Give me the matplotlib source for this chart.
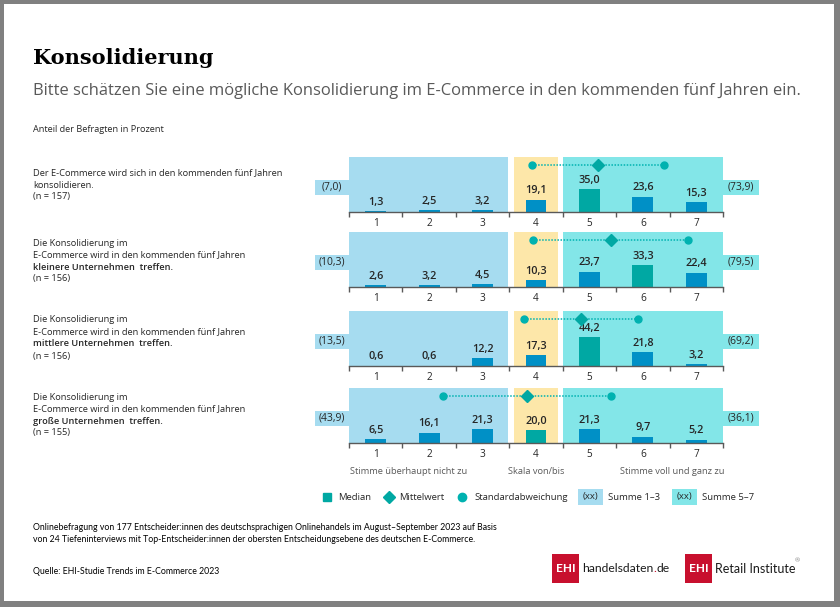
import numpy as np
import matplotlib.pyplot as plt
from matplotlib.patches import Rectangle

plt.rcParams['font.family'] = ['Open Sans', 'DejaVu Sans']

W, H = 840, 607

# data
cats = [1, 2, 3, 4, 5, 6, 7]
values = [
    [1.3, 2.5, 3.2, 19.1, 35.0, 23.6, 15.3],
    [2.6, 3.2, 4.5, 10.3, 23.7, 33.3, 22.4],
    [0.6, 0.6, 12.2, 17.3, 44.2, 21.8, 3.2],
    [6.5, 16.1, 21.3, 20.0, 21.3, 9.7, 5.2],
]
sum_low = [7.0, 10.3, 13.5, 43.9]
sum_high = [73.9, 79.5, 69.2, 36.1]
medians = [5, 6, 5, 4]
means = [5.16, 5.40, 4.84, 3.83]
sds = [1.24, 1.45, 1.07, 1.57]

statements = [
    ["Der E-Commerce wird sich in den kommenden fünf Jahren", "konsolidieren.", "(n = 157)"],
    ["Die Konsolidierung im", "E-Commerce wird in den kommenden fünf Jahren",
     "kleinere Unternehmen  treffen.", "(n = 156)"],
    ["Die Konsolidierung im", "E-Commerce wird in den kommenden fünf Jahren",
     "mittlere Unternehmen  treffen.", "(n = 156)"],
    ["Die Konsolidierung im", "E-Commerce wird in den kommenden fünf Jahren",
     "große Unternehmen  treffen.", "(n = 155)"],
]
bold_line = [None, 2, 2, 2]

c_blue_bg = '#a6dcf0'
c_yellow = '#fde7a9'
c_cyan = '#83e6e8'
c_bar = '#0090c6'
c_med = '#00a8a3'
c_dot = '#00b2b0'
c_text = '#262626'
c_grey = '#595959'


def fmt(v):
    return f"{v:.1f}".replace('.', ',')


fig = plt.figure(figsize=(W / 100, H / 100), dpi=100)
fig.patch.set_facecolor('#808080')

bg = fig.add_axes([0, 0, 1, 1])
bg.set_xlim(0, W)
bg.set_ylim(H, 0)
bg.axis('off')
bg.add_patch(Rectangle((4, 4), 830, 597, facecolor='white', edgecolor='none'))

bg.text(33, 58, "Konsolidierung", family='DejaVu Serif', fontweight='bold',
        fontsize=15, color='black', va='center')
bg.text(33, 91, "Bitte schätzen Sie eine mögliche Konsolidierung im E-Commerce in den kommenden fünf Jahren ein.",
        fontsize=11.9, color=c_grey, va='center')
bg.text(33, 130, "Anteil der Befragten in Prozent", fontsize=6.6, color=c_text, va='center')

baselines = [212, 287, 366, 443]
text_top = [173, 243, 320, 397]
x0, x1 = 349, 723
ph = 55

for i in range(4):
    b = baselines[i]
    ax = fig.add_axes([x0 / W, 1 - b / H, (x1 - x0) / W, ph / H])
    ax.set_xlim(0.5, 7.5)
    ax.set_ylim(0, 85)
    ax.axvspan(0.5, 3.47, color=c_blue_bg, lw=0, zorder=0)
    ax.axvspan(3.58, 4.41, color=c_yellow, lw=0, zorder=0)
    ax.axvspan(4.5, 7.5, color=c_cyan, lw=0, zorder=0)

    colors = [c_med if c == medians[i] else c_bar for c in cats]
    ax.bar(cats, values[i], width=0.39, color=colors, zorder=2)
    for c, v in zip(cats, values[i]):
        ax.text(c, v + 5, fmt(v), ha='center', va='bottom', fontsize=7.8,
                fontweight='semibold', color=c_text, zorder=3)

    y_sd = 73
    ax.plot([means[i] - sds[i], means[i] + sds[i]], [y_sd, y_sd], ls=(0, (1, 1)),
            lw=1.1, color=c_dot, zorder=4)
    ax.plot([means[i] - sds[i], means[i] + sds[i]], [y_sd, y_sd], 'o', ms=5,
            color=c_dot, zorder=5)
    ax.plot([means[i]], [y_sd], 'D', ms=6, color=c_med, zorder=5)

    # sum boxes
    ax.add_patch(Rectangle((-0.14, 27), 0.64, 23, facecolor=c_blue_bg, lw=0,
                           clip_on=False))
    ax.text(0.18, 38.5, "(" + fmt(sum_low[i]) + ")", ha='center', va='center',
            fontsize=7.5, color=c_text)
    ax.add_patch(Rectangle((7.5, 27), 0.68, 23, facecolor=c_cyan, lw=0,
                           clip_on=False))
    ax.text(7.84, 38.5, "(" + fmt(sum_high[i]) + ")", ha='center', va='center',
            fontsize=7.5, color=c_text)

    for s in ['top', 'right', 'left']:
        ax.spines[s].set_visible(False)
    ax.spines['bottom'].set_color(c_grey)
    ax.spines['bottom'].set_linewidth(1)
    ax.set_yticks([])
    ax.set_xticks(cats)
    ax.set_xticklabels([str(c) for c in cats], fontsize=7.2, color=c_text)
    ax.tick_params(axis='x', which='major', length=0, pad=4)
    ax.set_xticks(np.arange(0.5, 8, 1), minor=True)
    ax.tick_params(axis='x', which='minor', length=3.5, color=c_grey, width=1)
    ax.set_facecolor('none')

    for j, line in enumerate(statements[i]):
        bg.text(33, text_top[i] + 12 * j, line, fontsize=6.65, color=c_text, va='center',
                fontweight='semibold' if bold_line[i] == j else 'normal')

bg.text(409, 472, "Stimme überhaupt nicht zu", fontsize=6.7, color=c_grey, ha='center', va='center')
bg.text(536, 472, "Skala von/bis", fontsize=6.7, color=c_grey, ha='center', va='center')
bg.text(672, 472, "Stimme voll und ganz zu", fontsize=6.7, color=c_grey, ha='center', va='center')

# legend
ly = 497
fs_leg = 6.8
bg.plot([327], [ly], 's', ms=6, color=c_med)
bg.text(338, ly, "Median", fontsize=fs_leg, color=c_text, va='center')
bg.plot([389], [ly], 'D', ms=6, color=c_med)
bg.text(399, ly, "Mittelwert", fontsize=fs_leg, color=c_text, va='center')
bg.plot([462], [ly], 'o', ms=6, color=c_dot)
bg.text(474, ly, "Standardabweichung", fontsize=fs_leg, color=c_text, va='center')
bg.add_patch(Rectangle((578, 489), 25, 16, facecolor=c_blue_bg, lw=0))
bg.text(590.5, ly, "(xx)", fontsize=fs_leg, color=c_text, ha='center', va='center')
bg.text(608, ly, "Summe 1–3", fontsize=fs_leg, color=c_text, va='center')
bg.add_patch(Rectangle((672, 489), 25, 16, facecolor=c_cyan, lw=0))
bg.text(684.5, ly, "(xx)", fontsize=fs_leg, color=c_text, ha='center', va='center')
bg.text(702, ly, "Summe 5–7", fontsize=fs_leg, color=c_text, va='center')

# footer
narrow = ['Lato', 'DejaVu Sans']
bg.text(33, 527, "Onlinebefragung von 177 Entscheider:innen des deutschsprachigen Onlinehandels im August–September 2023 auf Basis",
        fontsize=6.3, family=narrow, color='black', va='center')
bg.text(33, 539, "von 24 Tiefeninterviews mit Top-Entscheider:innen der obersten Entscheidungsebene des deutschen E-Commerce.",
        fontsize=6.3, family=narrow, color='black', va='center')
bg.text(33, 572, "Quelle: EHI-Studie Trends im E-Commerce 2023", fontsize=6.3, family=narrow,
        color='black', va='center')

# logos
red = '#c8102e'
bg.add_patch(Rectangle((552, 554), 27, 29, facecolor=red, lw=0))
bg.text(565.5, 569, "EHI", fontsize=8.5, family=narrow, fontweight='bold', color='white',
        ha='center', va='center')
t1 = bg.text(582, 569, "handelsdaten", fontsize=8.7, family=narrow, color='#1a1a1a', va='center')
r = fig.canvas.get_renderer()
xe = bg.transData.inverted().transform(t1.get_window_extent(r))[1][0]
t2 = bg.text(xe, 569, ".", fontsize=8.7, family=narrow, color=red, va='center')
xe2 = bg.transData.inverted().transform(t2.get_window_extent(r))[1][0]
bg.text(xe2, 569, "de", fontsize=8.7, family=narrow, color='#1a1a1a', va='center')
bg.add_patch(Rectangle((685, 554), 27, 29, facecolor=red, lw=0))
bg.text(698.5, 569, "EHI", fontsize=8.5, family=narrow, fontweight='bold', color='white',
        ha='center', va='center')
bg.text(715, 569, "Retail Institute", fontsize=9, family=narrow, color='#1a1a1a', va='center')
bg.text(795, 561, "®", fontsize=4.5, color='#808080', va='center')

fig.savefig('out.png', dpi=100, facecolor=fig.get_facecolor())
